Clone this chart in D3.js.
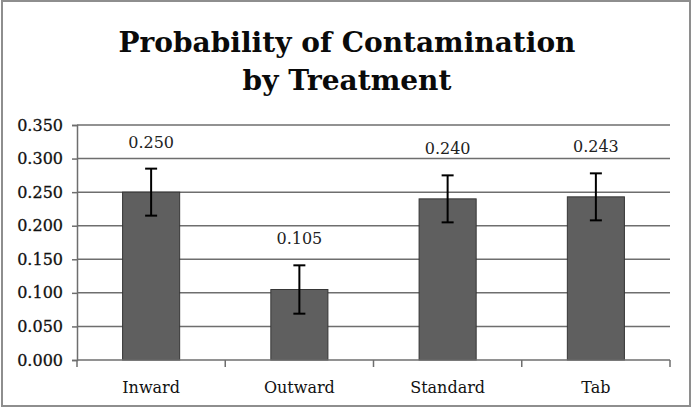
<!DOCTYPE html>
<html>
<head>
<meta charset="utf-8">
<script src="https://cdn.jsdelivr.net/npm/d3@7"></script>
<style>
  body { margin: 0; background: #fff; }
  svg { display: block; font-family: "DejaVu Serif", "Liberation Serif", serif; }
</style>
</head>
<body>
<svg id="chart" width="694" height="409"></svg>
<script>
const categories = ["Inward", "Outward", "Standard", "Tab"];
const values = [0.25, 0.105, 0.24, 0.243];
const errors = [0.035, 0.036, 0.035, 0.035];
const yTicks = [0, 0.05, 0.1, 0.15, 0.2, 0.25, 0.3, 0.35];
const titleLines = ["Probability of Contamination", "by Treatment"];

const svg = d3.select("#chart");
const margin = { top: 125, right: 24, bottom: 49, left: 77 };
const width = 694 - margin.left - margin.right,
  height = 409 - margin.top - margin.bottom;

// outer frame
svg
  .append("rect")
  .attr("x", 2)
  .attr("y", 1)
  .attr("width", 688)
  .attr("height", 405)
  .attr("fill", "#fff")
  .attr("stroke", "#8e8e8e")
  .attr("stroke-width", 2);

// title
svg
  .append("text")
  .attr("text-anchor", "middle")
  .style("font-weight", "bold")
  .style("font-size", "28px")
  .attr("fill", "#0a0a0a")
  .selectAll("tspan")
  .data(titleLines)
  .join("tspan")
  .attr("x", 347)
  .attr("y", (d, i) => 52 + i * 38)
  .text((d) => d);

const g = svg
  .append("g")
  .attr("transform", `translate(${margin.left},${margin.top})`);

const x = d3
  .scaleBand()
  .domain(categories)
  .range([0, width])
  .paddingInner(0.615)
  .paddingOuter(0.3075);

const y = d3.scaleLinear().domain([0, 0.35]).range([height, 0]);

// gridlines
g.append("g")
  .selectAll("line")
  .data(yTicks.slice(1))
  .join("line")
  .attr("x1", 0)
  .attr("x2", width)
  .attr("y1", (d) => y(d))
  .attr("y2", (d) => y(d))
  .attr("stroke", "#6e6e6e")
  .attr("stroke-width", 1.5);

// y axis
const yAxis = g
  .append("g")
  .call(
    d3.axisLeft(y).tickValues(yTicks).tickSize(5).tickPadding(9).tickFormat(d3.format(".3f"))
  )
  .attr("font-family", null)
  .attr("font-size", null);
yAxis.select(".domain").attr("stroke", "#6e6e6e").attr("stroke-width", 1.5);
yAxis.selectAll(".tick line").attr("stroke", "#6e6e6e").attr("stroke-width", 1.5);
yAxis
  .selectAll("text")
  .style("font-size", "16px")
  .attr("fill", "#111")
  .attr("stroke", "#111")
  .attr("stroke-width", 0.3);

// bars
g.selectAll(".bar")
  .data(values)
  .join("rect")
  .attr("class", "bar")
  .attr("x", (d, i) => x(categories[i]))
  .attr("width", x.bandwidth())
  .attr("y", (d) => y(d))
  .attr("height", (d) => height - y(d))
  .attr("fill", "#5f5f5f")
  .attr("stroke", "#363636")
  .attr("stroke-width", 1);

// x axis
const xAxis = g.append("g").attr("transform", `translate(0,${height})`);
xAxis
  .append("line")
  .attr("x1", 0)
  .attr("x2", width)
  .attr("stroke", "#6e6e6e")
  .attr("stroke-width", 1.5);
xAxis
  .selectAll(".bound")
  .data(d3.range(categories.length + 1))
  .join("line")
  .attr("class", "bound")
  .attr("x1", (i) => i * x.step())
  .attr("x2", (i) => i * x.step())
  .attr("y1", 0)
  .attr("y2", 7)
  .attr("stroke", "#6e6e6e")
  .attr("stroke-width", 1.5);
xAxis
  .selectAll("text")
  .data(categories)
  .join("text")
  .attr("x", (d) => x(d) + x.bandwidth() / 2)
  .attr("y", 33)
  .attr("text-anchor", "middle")
  .style("font-size", "16px")
  .attr("fill", "#111")
  .text((d) => d);

// error bars
const err = g.append("g").attr("stroke", "#000").attr("stroke-width", 2);
values.forEach((v, i) => {
  const cx = x(categories[i]) + x.bandwidth() / 2;
  const top = y(v + errors[i]),
    bot = y(v - errors[i]);
  err.append("line").attr("x1", cx).attr("x2", cx).attr("y1", top).attr("y2", bot);
  err.append("line").attr("x1", cx - 6).attr("x2", cx + 6).attr("y1", top).attr("y2", top);
  err.append("line").attr("x1", cx - 6).attr("x2", cx + 6).attr("y1", bot).attr("y2", bot);
});

// value labels
g.selectAll(".val")
  .data(values)
  .join("text")
  .attr("class", "val")
  .attr("x", (d, i) => x(categories[i]) + x.bandwidth() / 2)
  .attr("y", (d, i) => y(d + errors[i]) - 21)
  .attr("text-anchor", "middle")
  .style("font-size", "16px")
  .attr("fill", "#222")
  .text((d) => d3.format(".3f")(d));
</script>
</body>
</html>
